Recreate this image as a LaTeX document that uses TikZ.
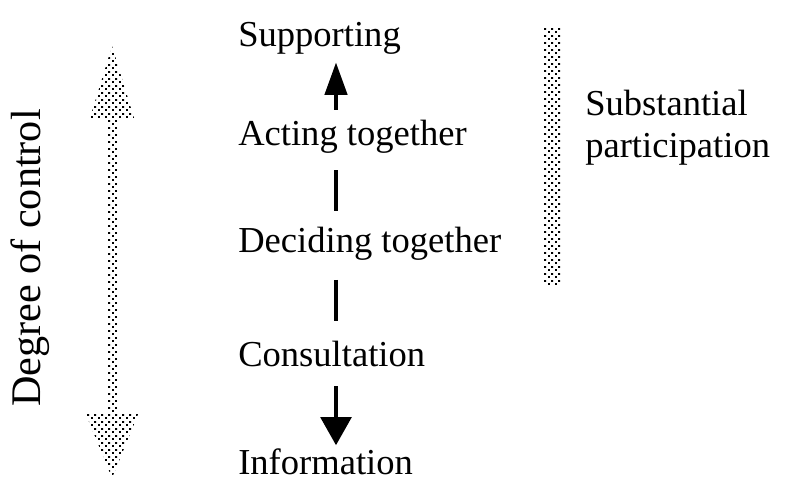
\documentclass[tikz,border=0pt]{standalone}
\usepackage{fontspec}
\setmainfont{Liberation Serif}
\usetikzlibrary{patterns,arrows.meta}

\pgfdeclarepatternformonly{coarse dots}{\pgfpointorigin}{\pgfqpoint{5pt}{5pt}}{\pgfqpoint{5pt}{5pt}}{%
  \pgfpathrectangle{\pgfqpoint{0pt}{0pt}}{\pgfqpoint{1.5pt}{1.5pt}}%
  \pgfpathrectangle{\pgfqpoint{2.5pt}{2.5pt}}{\pgfqpoint{1.5pt}{1.5pt}}%
  \pgfusepath{fill}}

\tikzset{
  label/.style={inner sep=0pt,anchor=base west,font=\fontsize{26}{30}\selectfont},
  dots/.style={pattern=coarse dots,draw=none},
  link/.style={line width=2.2pt},
}

\begin{document}
\begin{tikzpicture}[x=0.025cm,y=-0.025cm]
\useasboundingbox (0,0) rectangle (795,481);

\node[label] (sup) at (238,46){Supporting};
\node[label] (act) at (238,145){Acting together};
\node[label] (dec) at (238,252){Deciding together};
\node[label] (con) at (238,366){Consultation};
\node[label] (inf) at (238,474){Information};

\node[label] (subst) at (585,115){Substantial};
\node[label] (part) at (585,157){participation};

\node[label,anchor=base,rotate=90,font=\fontsize{30}{34}\selectfont] (deg) at (40,258){Degree of control};

\coordinate (axis) at (336,0);

\draw[link,-{Triangle[length=23pt,width=16pt]},shorten <=7pt,shorten >=6pt] (act.north -| axis) -- (sup.south -| axis);
\draw[link,shorten <=12pt,shorten >=11pt] (act.south -| axis) -- (dec.north -| axis);
\draw[link,shorten <=14pt,shorten >=14pt] (dec.south -| axis) -- (con.north -| axis);
\draw[link,-{Triangle[length=20pt,width=22pt]},shorten <=14pt,shorten >=2pt] (con.south -| axis) -- (inf.north -| axis);

% degree of control arrow
\fill[dots] (112,46) -- (134,118) -- (117,118) -- (117,412) -- (139,412) -- (112,478)
  -- (85,412) -- (107,412) -- (107,118) -- (90,118) -- cycle;
% participation bar
\fill[dots] (544,28) rectangle (561,285);
\end{tikzpicture}
\end{document}
